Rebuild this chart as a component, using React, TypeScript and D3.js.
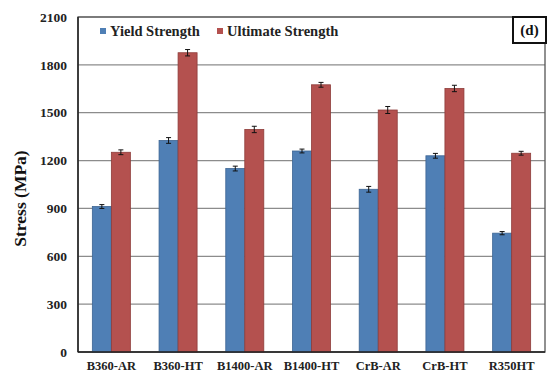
import React from "react";
import * as d3 from "d3";

const categories = ["B360-AR", "B360-HT", "B1400-AR", "B1400-HT", "CrB-AR", "CrB-HT", "R350HT"];
const seriesNames = ["Yield Strength", "Ultimate Strength"];
const yieldStrength = [912, 1326, 1150, 1260, 1020, 1230, 745];
const ultimateStrength = [1252, 1876, 1395, 1675, 1517, 1652, 1246];
const yieldErr = [12, 18, 15, 12, 18, 15, 10];
const ultimateErr = [15, 20, 20, 15, 22, 20, 12];
const yTicks = [0, 300, 600, 900, 1200, 1500, 1800, 2100];

const W = 551;
const H = 374;
const margin = { left: 78, right: 6, top: 17, bottom: 22 };
const colors = ["#4f7fb5", "#b4514f"];
const strokes = ["#3d6593", "#8e3c3a"];
const font = "Liberation Serif, Times New Roman, serif";

export default function App() {
  const x0 = d3
    .scaleBand<string>()
    .domain(categories)
    .range([margin.left, W - margin.right])
    .paddingInner(0.43)
    .paddingOuter(0.215);
  const x1 = d3.scaleBand<number>().domain([0, 1]).range([0, x0.bandwidth()]);
  const y = d3.scaleLinear().domain([0, 2100]).range([H - margin.bottom, margin.top]);

  const data = [yieldStrength, ultimateStrength];
  const errs = [yieldErr, ultimateErr];
  const plotRight = W - margin.right;

  return (
    <svg width={W} height={H} style={{ position: "absolute", left: 0, top: 0, background: "#fff" }}>
      {/* gridlines */}
      {yTicks.map((t) => (
        <line key={t} x1={margin.left} x2={plotRight} y1={y(t)} y2={y(t)} stroke="#8c8c8c" strokeWidth={1.2} />
      ))}
      {/* plot frame */}
      <rect
        x={margin.left}
        y={margin.top}
        width={plotRight - margin.left}
        height={y(0) - margin.top}
        fill="none"
        stroke="#555"
        strokeWidth={1.3}
      />
      {/* bars */}
      {categories.map((c, i) => (
        <g key={c}>
          {data.map((s, k) => {
            const bx = (x0(c) as number) + (x1(k) as number);
            const bw = x1.bandwidth();
            const cx = bx + bw / 2;
            return (
              <g key={k}>
                <rect x={bx} y={y(s[i])} width={bw} height={y(0) - y(s[i])} fill={colors[k]} stroke={strokes[k]} strokeWidth={0.8} />
                <line x1={cx} x2={cx} y1={y(s[i] + errs[k][i])} y2={y(s[i] - errs[k][i])} stroke="#111" strokeWidth={1} />
                <line x1={cx - 2.5} x2={cx + 2.5} y1={y(s[i] + errs[k][i])} y2={y(s[i] + errs[k][i])} stroke="#111" strokeWidth={1} />
                <line x1={cx - 2.5} x2={cx + 2.5} y1={y(s[i] - errs[k][i])} y2={y(s[i] - errs[k][i])} stroke="#111" strokeWidth={1} />
              </g>
            );
          })}
        </g>
      ))}
      {/* axis lines */}
      <line x1={margin.left} x2={plotRight} y1={y(0)} y2={y(0)} stroke="#222" strokeWidth={1.5} />
      <line x1={margin.left} x2={margin.left} y1={margin.top} y2={y(0)} stroke="#222" strokeWidth={1.5} />
      {/* y tick labels */}
      {yTicks.map((t) => (
        <text key={t} x={67} y={y(t)} dy="0.35em" textAnchor="end" fontFamily={font} fontWeight="bold" fontSize={13.5} fill="#222">
          {t}
        </text>
      ))}
      {/* category labels */}
      {categories.map((c) => (
        <text
          key={c}
          x={(x0(c) as number) + x0.bandwidth() / 2}
          y={366}
          dy="0.35em"
          textAnchor="middle"
          fontFamily={font}
          fontWeight="bold"
          fontSize={12.5}
          fill="#222"
        >
          {c}
        </text>
      ))}
      {/* y axis title */}
      <text
        transform={`translate(20, ${(margin.top + y(0)) / 2 + 14}) rotate(-90)`}
        textAnchor="middle"
        dy="0.35em"
        fontFamily={font}
        fontWeight="bold"
        fontSize={17.5}
        fill="#111"
      >
        Stress (MPa)
      </text>
      {/* legend */}
      {seriesNames.map((n, k) => {
        const lx = k === 0 ? 100 : 217;
        return (
          <g key={n}>
            <rect x={lx} y={28} width={6} height={6} fill={colors[k]} />
            <text x={lx + 10} y={31} dy="0.35em" fontFamily={font} fontWeight="bold" fontSize={14.5} fill="#222">
              {n}
            </text>
          </g>
        );
      })}
      {/* panel label */}
      <rect x={513} y={17} width={33} height={26} fill="#fff" stroke="#111" strokeWidth={2} />
      <text x={529.5} y={30} dy="0.35em" textAnchor="middle" fontFamily={font} fontWeight="bold" fontSize={15} fill="#111">
        (d)
      </text>
    </svg>
  );
}
